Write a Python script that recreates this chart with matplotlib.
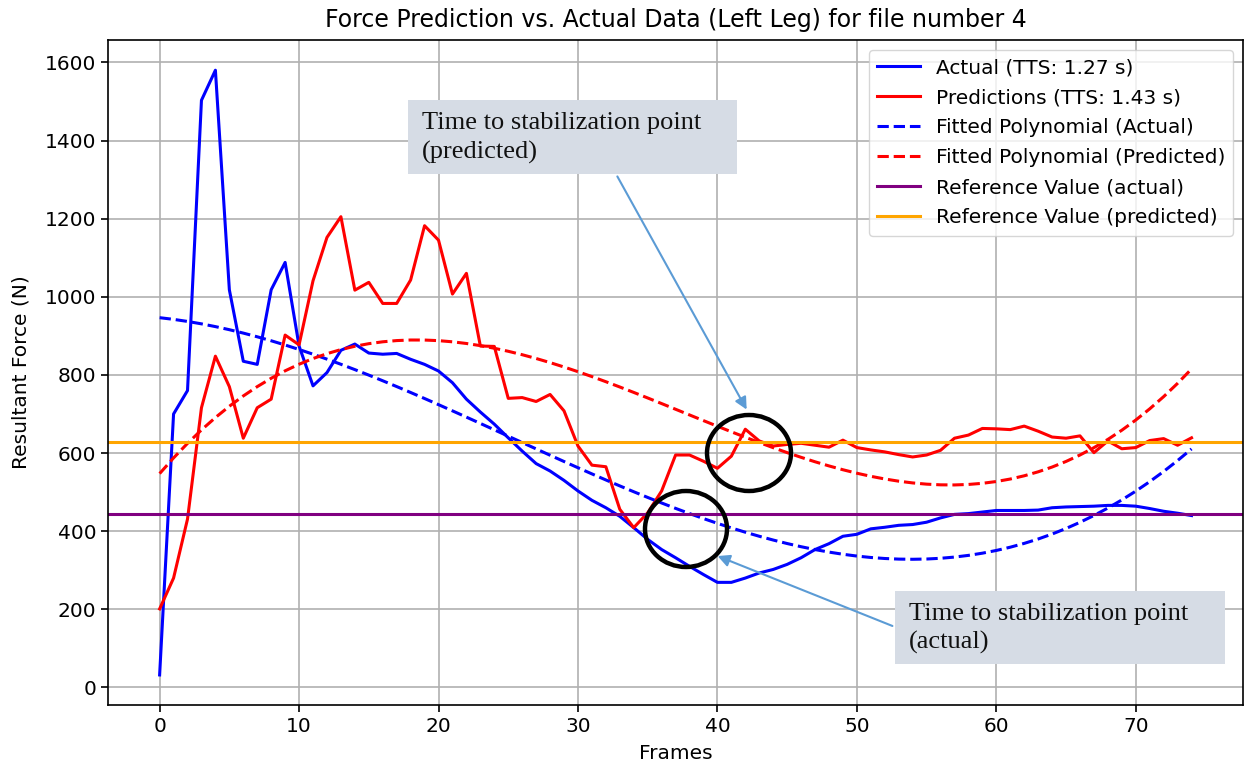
import numpy as np
import matplotlib
matplotlib.use('Agg')
import matplotlib.pyplot as plt
from matplotlib.patches import Ellipse

# data
frames = list(range(75))
actual = [32, 700, 760, 1503, 1580, 1018, 835, 827, 1018, 1088,
          874, 772, 806, 863, 879, 856, 853, 855, 840, 827,
          810, 780, 738, 705, 674, 639, 605, 573, 554, 530,
          503, 479, 460, 438, 409, 379, 353, 332, 310, 289,
          269, 269, 280, 293, 302, 315, 332, 353, 368, 387,
          392, 406, 410, 415, 417, 423, 434, 443, 445, 449,
          453, 453, 453, 454, 460, 462, 463, 464, 466, 466,
          464, 458, 451, 446, 440]
predicted = [201, 280, 431, 716, 848, 770, 638, 716, 738, 902,
             877, 1041, 1152, 1205, 1017, 1037, 983, 983, 1043, 1182,
             1145, 1007, 1060, 874, 873, 740, 742, 732, 750, 708,
             618, 569, 565, 456, 409, 447, 503, 595, 595, 579,
             561, 592, 661, 631, 618, 622, 625, 620, 615, 633,
             614, 608, 603, 596, 590, 595, 607, 638, 646, 663,
             662, 660, 669, 656, 641, 638, 644, 601, 631, 611,
             614, 632, 637, 620, 639]
tts_actual = 1.27
tts_pred = 1.43
ref_actual = 445
ref_pred = 629
file_number = 4

# polynomial fits of both series
fit_actual = np.polyval(np.polyfit(frames, actual, 3), frames)
fit_pred = np.polyval(np.polyfit(frames, predicted, 3), frames)

plt.rcParams['font.size'] = 14.5
plt.rcParams['axes.linewidth'] = 1.2
plt.rcParams['xtick.major.width'] = 1.2
plt.rcParams['ytick.major.width'] = 1.2
plt.rcParams['xtick.major.size'] = 5
plt.rcParams['ytick.major.size'] = 5

fig = plt.figure(figsize=(12.46, 7.69), dpi=100)
ax = fig.add_axes([0.0867, 0.083, 0.911, 0.865])

ax.plot(frames, actual, color='blue', lw=2.2, label=f'Actual (TTS: {tts_actual} s)')
ax.plot(frames, predicted, color='red', lw=2.2, label=f'Predictions (TTS: {tts_pred} s)')
ax.plot(frames, fit_actual, color='blue', ls='--', lw=2.2, label='Fitted Polynomial (Actual)')
ax.plot(frames, fit_pred, color='red', ls='--', lw=2.2, label='Fitted Polynomial (Predicted)')
ax.axhline(ref_actual, color='purple', lw=2.2, label='Reference Value (actual)')
ax.axhline(ref_pred, color='orange', lw=2.2, label='Reference Value (predicted)')

ax.set_title(f'Force Prediction vs. Actual Data (Left Leg) for file number {file_number}', fontsize=17.0, pad=9)
ax.set_xlabel('Frames', labelpad=6)
ax.set_ylabel('Resultant Force (N)', labelpad=10)
ax.grid(True, color='#b0b0b0', lw=1.2)
ax.legend(loc='upper right', fontsize=14.5, labelspacing=0.55, handlelength=2.1)

# callouts added on top of the chart (figure pixel positions)
W, H = 1246, 769
def fx(x): return x / W
def fy(y): return 1 - y / H

for cx, cy, w, h in [(749, 453, 84, 76), (686, 529, 82, 76)]:
    fig.add_artist(Ellipse((fx(cx), fy(cy)), w / W, h / H, transform=fig.transFigure,
                           fill=False, ec='black', lw=3.2, zorder=10))

boxes = [(408, 100, 737, 174, 'Time to stabilization point\n(predicted)', (616, 174), (748, 412)),
         (895, 591, 1225, 664, 'Time to stabilization point\n(actual)', (895, 627), (715, 555))]
for x0, y0, x1, y1, txt, start, tip in boxes:
    fig.add_artist(plt.Rectangle((fx(x0), fy(y1)), (x1 - x0) / W, (y1 - y0) / H,
                                 transform=fig.transFigure, fc='#d6dce5', ec='none', zorder=11))
    fig.text(fx(x0 + 14), fy((y0 + y1) / 2 + 1), txt, family='Liberation Serif', fontsize=19,
             va='center', ha='left', linespacing=1.34, color='#111111', zorder=12)
    ax.annotate('', xy=(fx(tip[0]), fy(tip[1])), xycoords='figure fraction',
                xytext=(fx(start[0]), fy(start[1])), textcoords='figure fraction',
                arrowprops=dict(arrowstyle='-|>', color='#5b9bd5', lw=1.5, mutation_scale=18),
                zorder=13, annotation_clip=False)

fig.savefig('out.png', dpi=100)
